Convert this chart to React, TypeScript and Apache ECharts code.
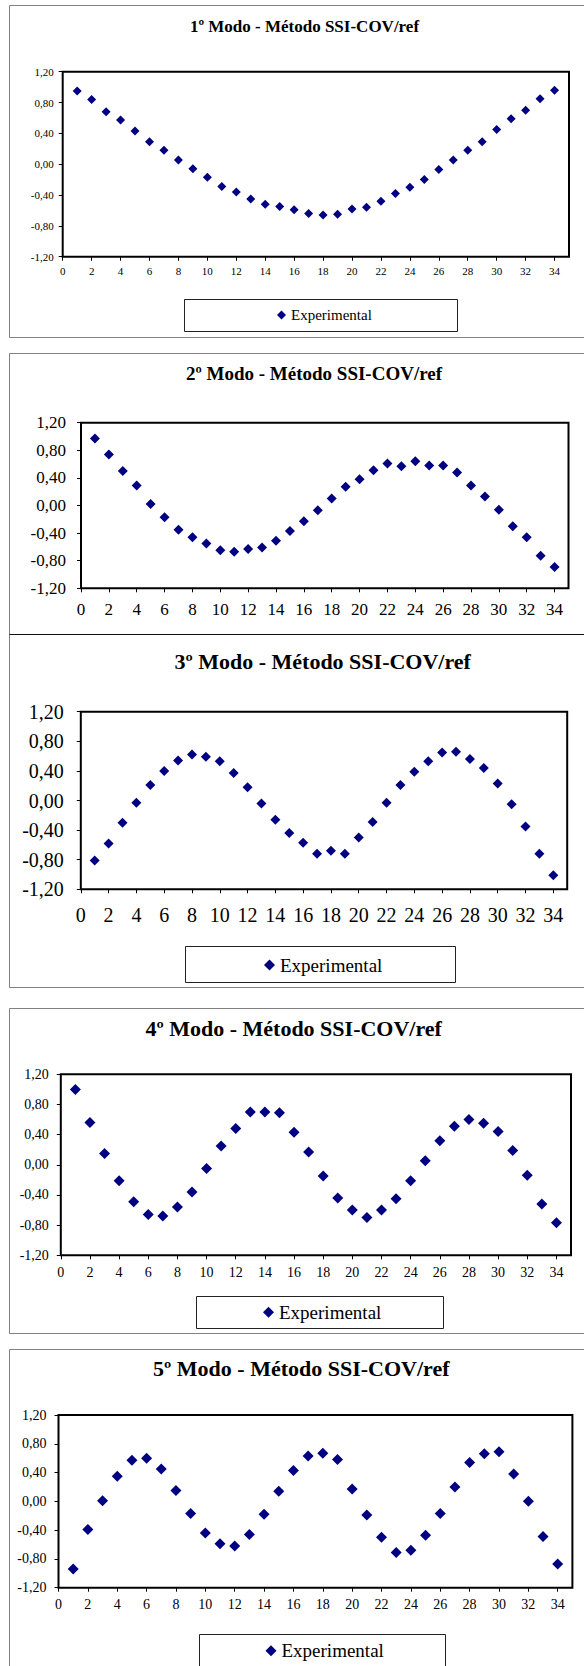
import { useEffect, useRef } from 'react';
import * as echarts from 'echarts';

// ---- data ----
const positions = [1, 2, 3, 4, 5, 6, 7, 8, 9, 10, 11, 12, 13, 14, 15, 16, 17, 18, 19, 20, 21, 22, 23, 24, 25, 26, 27, 28, 29, 30, 31, 32, 33, 34];
const mode1 = [0.95, 0.84, 0.68, 0.575, 0.43, 0.29, 0.18, 0.054, -0.06, -0.17, -0.29, -0.36, -0.45, -0.52, -0.55, -0.59, -0.64, -0.66, -0.65, -0.58, -0.56, -0.48, -0.38, -0.3, -0.2, -0.07, 0.054, 0.18, 0.29, 0.45, 0.59, 0.7, 0.85, 0.96];
const mode2 = [0.97, 0.74, 0.5, 0.29, 0.02, -0.17, -0.35, -0.46, -0.55, -0.65, -0.67, -0.63, -0.61, -0.51, -0.37, -0.23, -0.07, 0.1, 0.27, 0.38, 0.51, 0.61, 0.57, 0.64, 0.58, 0.58, 0.48, 0.29, 0.13, -0.06, -0.3, -0.46, -0.73, -0.89];
const mode3 = [-0.81, -0.58, -0.3, -0.03, 0.21, 0.4, 0.54, 0.62, 0.59, 0.53, 0.37, 0.18, -0.04, -0.26, -0.44, -0.57, -0.72, -0.68, -0.72, -0.5, -0.29, -0.03, 0.21, 0.39, 0.53, 0.65, 0.66, 0.56, 0.44, 0.23, -0.05, -0.35, -0.72, -1.01];
const mode4 = [1.0, 0.56, 0.15, -0.21, -0.49, -0.66, -0.68, -0.56, -0.36, -0.05, 0.25, 0.48, 0.7, 0.7, 0.69, 0.43, 0.17, -0.15, -0.44, -0.6, -0.7, -0.6, -0.45, -0.21, 0.055, 0.32, 0.51, 0.6, 0.55, 0.44, 0.19, -0.14, -0.52, -0.77];
const mode5 = [-0.94, -0.39, 0.01, 0.35, 0.57, 0.6, 0.45, 0.15, -0.17, -0.44, -0.59, -0.62, -0.46, -0.18, 0.14, 0.43, 0.63, 0.67, 0.58, 0.17, -0.19, -0.5, -0.71, -0.68, -0.47, -0.17, 0.2, 0.54, 0.66, 0.69, 0.38, 0.0, -0.49, -0.87];
const titles = [
  '1º Modo - Método SSI-COV/ref',
  '2º Modo - Método SSI-COV/ref',
  '3º Modo - Método SSI-COV/ref',
  '4º Modo - Método SSI-COV/ref',
  '5º Modo - Método SSI-COV/ref',
];
const seriesName = 'Experimental';
const xMin = 0;
const xMax = 35;
const xStep = 2;
const yMin = -1.2;
const yMax = 1.2;
const yStep = 0.4;

// ---- layout / style ----
const W = 584;
const H = 1666;
const FONT = 'Liberation Serif';
const MARK = '#000080';
const BORDER = '#808080';

type Panel = {
  data: number[];
  box: { x: number; y: number; b: number | null; topColor: string };
  title: { x: number; y: number; size: number };
  grid: { left: number; top: number; right: number; bottom: number };
  tickFont: number;
  xMargin: number;
  yMargin: number;
  sym: number;
  legend: null | { bx: number; by: number; bx2: number; by2: number; left: number; cy: number; font: number; icon: number };
};

const panels: Panel[] = [
  {
    data: mode1,
    box: { x: 9.5, y: 5.5, b: 337.5, topColor: BORDER },
    title: { x: 304.5, y: 26, size: 17 },
    grid: { left: 62.7, top: 71.7, right: 569, bottom: 256.7 },
    tickFont: 11, xMargin: 9, yMargin: 9, sym: 9,
    legend: { bx: 184.5, by: 299.5, bx2: 457.5, by2: 331.5, left: 277, cy: 315, font: 15, icon: 9 },
  },
  {
    data: mode2,
    box: { x: 9.5, y: 353.5, b: null, topColor: BORDER },
    title: { x: 314, y: 373.3, size: 19 },
    grid: { left: 81, top: 422.7, right: 568.5, bottom: 588.3 },
    tickFont: 17, xMargin: 13, yMargin: 15, sym: 10,
    legend: null,
  },
  {
    data: mode3,
    box: { x: 9.5, y: 634.5, b: 987.5, topColor: '#111' },
    title: { x: 322.7, y: 661.7, size: 22 },
    grid: { left: 80.8, top: 711.7, right: 567.2, bottom: 889.3 },
    tickFont: 20, xMargin: 16, yMargin: 17, sym: 10,
    legend: { bx: 185.5, by: 946.5, bx2: 455.5, by2: 982.5, left: 264, cy: 965, font: 19, icon: 11 },
  },
  {
    data: mode4,
    box: { x: 9.5, y: 1008.5, b: 1333.5, topColor: BORDER },
    title: { x: 293.7, y: 1028.3, size: 22 },
    grid: { left: 60.8, top: 1074.3, right: 571, bottom: 1255.3 },
    tickFont: 14, xMargin: 10, yMargin: 12, sym: 11,
    legend: { bx: 196.5, by: 1296.5, bx2: 443.5, by2: 1328.5, left: 263, cy: 1312.3, font: 19, icon: 11 },
  },
  {
    data: mode5,
    box: { x: 9.5, y: 1349.5, b: null, topColor: BORDER },
    title: { x: 301.3, y: 1368.3, size: 22 },
    grid: { left: 58.5, top: 1415, right: 572.4, bottom: 1587.7 },
    tickFont: 14, xMargin: 10, yMargin: 12, sym: 11,
    legend: { bx: 199.5, by: 1634.5, bx2: 445.5, by2: 1700, left: 265.5, cy: 1650.7, font: 19, icon: 11 },
  },
];

function fmtY(v: number): string {
  if (Math.abs(v) < 1e-9) return '0,00';
  return v.toFixed(2).replace('.', ',');
}

function buildOption() {
  const grid: any[] = [];
  const xAxis: any[] = [];
  const yAxis: any[] = [];
  const series: any[] = [];
  const legend: any[] = [];
  const graphic: any[] = [];

  panels.forEach((p, i) => {
    grid.push({
      left: p.grid.left,
      top: p.grid.top,
      width: p.grid.right - p.grid.left,
      height: p.grid.bottom - p.grid.top,
      show: true,
      borderColor: '#000',
      borderWidth: 2,
      backgroundColor: 'transparent',
      containLabel: false,
    });
    xAxis.push({
      type: 'value',
      gridIndex: i,
      position: 'bottom',
      min: xMin,
      max: xMax,
      interval: xStep,
      splitLine: { show: false },
      axisLine: { show: false, onZero: false },
      axisTick: { show: true, inside: false, length: 4, lineStyle: { color: '#000', width: 1 } },
      axisLabel: {
        show: true,
        margin: p.xMargin,
        showMaxLabel: false,
        color: '#000',
        fontFamily: FONT,
        fontSize: p.tickFont,
      },
    });
    yAxis.push({
      type: 'value',
      gridIndex: i,
      position: 'left',
      min: yMin,
      max: yMax,
      interval: yStep,
      splitLine: { show: false },
      axisLine: { show: false, onZero: false },
      axisTick: { show: true, inside: false, length: 4, lineStyle: { color: '#000', width: 1 } },
      axisLabel: {
        show: true,
        margin: p.yMargin,
        color: '#000',
        fontFamily: FONT,
        fontSize: p.tickFont,
        formatter: (v: number) => fmtY(v),
      },
    });
    series.push({
      type: 'scatter',
      name: seriesName,
      xAxisIndex: i,
      yAxisIndex: i,
      symbol: 'diamond',
      symbolSize: p.sym,
      itemStyle: { color: MARK, opacity: 1 },
      data: positions.map((x, j) => [x, p.data[j]]),
    });

    // panel frame
    const right = 600;
    if (p.box.b !== null) {
      graphic.push({
        type: 'polyline',
        silent: true,
        shape: { points: [[right, p.box.b], [p.box.x, p.box.b], [p.box.x, p.box.y]] },
        style: { stroke: BORDER, lineWidth: 1, fill: 'none' },
      });
    } else {
      graphic.push({
        type: 'line',
        silent: true,
        shape: { x1: p.box.x, y1: p.box.y, x2: p.box.x, y2: i === 1 ? 680 : 1700 },
        style: { stroke: BORDER, lineWidth: 1 },
      });
    }
    graphic.push({
      type: 'line',
      silent: true,
      shape: { x1: p.box.x, y1: p.box.y, x2: right, y2: p.box.y },
      style: { stroke: p.box.topColor, lineWidth: 1 },
    });
    // title
    graphic.push({
      type: 'text',
      silent: true,
      style: {
        text: titles[i],
        x: p.title.x,
        y: p.title.y,
        fill: '#000',
        font: `bold ${p.title.size}px "${FONT}", serif`,
        textAlign: 'center',
        textVerticalAlign: 'middle',
        align: 'center',
        verticalAlign: 'middle',
      },
    });

    if (p.legend) {
      const l = p.legend;
      graphic.push({
        type: 'rect',
        silent: true,
        shape: { x: l.bx, y: l.by, width: l.bx2 - l.bx, height: l.by2 - l.by },
        style: { stroke: '#222', lineWidth: 1, fill: 'none' },
      });
      legend.push({
        show: true,
        left: l.left,
        top: l.cy - l.font / 2,
        padding: 0,
        itemWidth: l.icon,
        itemHeight: l.icon,
        icon: 'diamond',
        selectedMode: false,
        data: [seriesName],
        itemStyle: { opacity: 1 },
        textStyle: { color: '#000', fontFamily: FONT, fontSize: l.font, fontWeight: 'normal' },
      });
    }
  });

  return {
    animation: false,
    backgroundColor: '#fff',
    textStyle: { fontFamily: FONT },
    grid,
    xAxis,
    yAxis,
    series,
    legend,
    graphic,
  };
}

export default function App() {
  const ref = useRef<HTMLDivElement>(null);
  useEffect(() => {
    if (!ref.current) return;
    const chart = echarts.init(ref.current, undefined, { renderer: 'svg', width: W, height: H });
    chart.setOption(buildOption() as any);
    return () => {
      chart.dispose();
    };
  }, []);
  return (
    <div
      ref={ref}
      style={{ position: 'absolute', left: 0, top: 0, width: W, height: H, background: '#fff' }}
    />
  );
}
